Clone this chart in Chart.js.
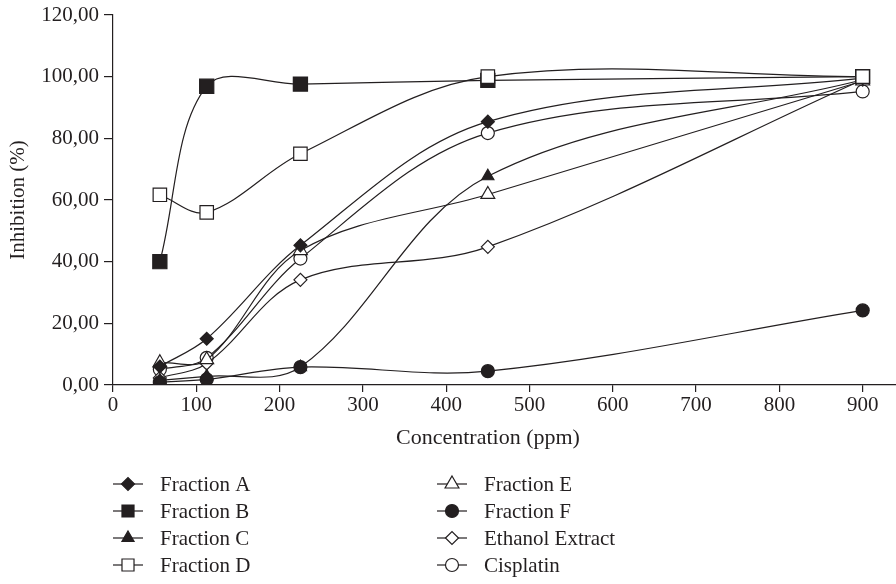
<!DOCTYPE html>
<html>
<head>
<meta charset="utf-8">
<script src="https://cdn.jsdelivr.net/npm/chart.js@4.4.1/dist/chart.umd.min.js"></script>
<style>
    html, body { margin: 0; padding: 0; background: #ffffff; overflow: hidden; }
    canvas { display: block; }
</style>
</head>
<body>
<canvas id="inhibitionChart" width="896" height="584"></canvas>
<script>
// concentrations tested (ppm)
const concentrations = [56.25, 112.5, 225, 450, 900];

// inhibition (%) per sample
const fractionA = [6.0, 15.0, 45.3, 85.4, 99.5];
const fractionB = [40.0, 96.9, 97.6, 98.8, 100.0];
const fractionC = [1.5, 2.8, 5.8, 67.7, 99.0];
const fractionD = [61.7, 56.0, 75.0, 100.0, 100.0];
const fractionE = [7.2, 8.2, 43.6, 61.8, 98.6];
const fractionF = [0.9, 1.8, 5.8, 4.5, 24.2];
const ethanolExtract = [2.3, 7.0, 34.1, 44.8, 99.0];
const cisplatin = [5.0, 8.8, 41.0, 81.7, 95.2];

const seriesNames = ['Fraction A', 'Fraction B', 'Fraction C', 'Fraction D',
    'Fraction E', 'Fraction F', 'Ethanol Extract', 'Cisplatin'];

const xTicks = [0, 100, 200, 300, 400, 500, 600, 700, 800, 900];
const yTicks = [0, 20, 40, 60, 80, 100, 120];
const xTitle = 'Concentration (ppm)';

const ink = '#231f20';
const serif = '"Liberation Serif", "DejaVu Serif", serif';

function points(values) {
    return values.map(function (v, i) {
        return { x: concentrations[i], y: v };
    });
}

function series(label, values, style, radius, filled) {
    return {
        label: label,
        data: points(values),
        borderColor: ink,
        borderWidth: 1.2,
        tension: 0.35,
        fill: false,
        pointStyle: style,
        pointRadius: radius,
        pointBackgroundColor: filled ? ink : '#ffffff',
        pointBorderColor: ink,
        pointBorderWidth: 1.2
    };
}

const datasets = [
    series(seriesNames[0], fractionA, 'rectRot', 6.5, true),
    series(seriesNames[1], fractionB, 'rect', 10, true),
    series(seriesNames[2], fractionC, 'triangle', 7, true),
    series(seriesNames[3], fractionD, 'rect', 9.5, false),
    series(seriesNames[4], fractionE, 'triangle', 8, false),
    series(seriesNames[5], fractionF, 'circle', 6.5, true),
    series(seriesNames[6], ethanolExtract, 'rectRot', 6.5, false),
    series(seriesNames[7], cisplatin, 'circle', 6.5, false)
];
datasets[3].order = -1;

// axis title and two-column legend under the x axis
const bottomBlock = {
    id: 'bottomBlock',
    afterDraw: function (chart) {
        const ctx = chart.ctx;
        const left = chart.chartArea.left;
        ctx.save();
        ctx.textBaseline = 'middle';
        ctx.fillStyle = ink;
        ctx.font = '22px ' + serif;
        ctx.textAlign = 'center';
        ctx.fillText(xTitle, left + 375, chart.chartArea.bottom + 53);

        ctx.font = '21px ' + serif;
        ctx.textAlign = 'left';
        chart.data.datasets.forEach(function (ds, i) {
            const x0 = left + Math.floor(i / 4) * 324;
            const y = chart.height - 100 + (i % 4) * 27;
            ctx.strokeStyle = ink;
            ctx.lineWidth = 1.2;
            ctx.beginPath();
            ctx.moveTo(x0, y);
            ctx.lineTo(x0 + 30, y);
            ctx.stroke();
            ctx.fillStyle = ds.pointBackgroundColor;
            Chart.helpers.drawPoint(ctx, {
                pointStyle: ds.pointStyle,
                radius: Math.min(ds.pointRadius, 8.5),
                rotation: 0,
                borderWidth: 1.2
            }, x0 + 15, y);
            ctx.fillStyle = ink;
            ctx.fillText(ds.label, x0 + 47, y + 1);
        });
        ctx.restore();
    }
};

new Chart(document.getElementById('inhibitionChart'), {
    type: 'line',
    data: { datasets: datasets },
    plugins: [bottomBlock],
    options: {
        responsive: false,
        animation: false,
        devicePixelRatio: 1,
        layout: {
            autoPadding: false,
            padding: { top: 15, right: 0, bottom: 134, left: 0 }
        },
        plugins: {
            legend: { display: false },
            tooltip: { enabled: false }
        },
        scales: {
            x: {
                type: 'linear',
                min: 0,
                max: 940,
                afterBuildTicks: function (scale) {
                    scale.ticks = xTicks.map(function (v) { return { value: v }; });
                },
                afterFit: function (scale) {
                    scale.height = 65;
                    scale.paddingRight = 0;
                },
                ticks: {
                    color: ink,
                    padding: 1,
                    maxRotation: 0,
                    font: { family: serif, size: 21 }
                },
                grid: {
                    drawOnChartArea: false,
                    tickLength: 7,
                    color: ink,
                    lineWidth: 1.2
                },
                border: { color: ink, width: 1.2 }
            },
            y: {
                min: 0,
                max: 120,
                afterBuildTicks: function (scale) {
                    scale.ticks = yTicks.map(function (v) { return { value: v }; });
                },
                afterFit: function (scale) {
                    scale.width = 113;
                    scale.paddingTop = 0;
                },
                ticks: {
                    color: ink,
                    padding: 5,
                    font: { family: serif, size: 21 },
                    callback: function (value) {
                        return Number(value).toFixed(2).replace('.', ',');
                    }
                },
                grid: {
                    drawOnChartArea: false,
                    tickLength: 9,
                    color: ink,
                    lineWidth: 1.2
                },
                border: { color: ink, width: 1.2 },
                title: {
                    display: true,
                    text: 'Inhibition (%)',
                    color: ink,
                    font: { family: serif, size: 21 },
                    padding: { top: 6, bottom: 0 }
                }
            }
        }
    }
});
</script>
</body>
</html>
